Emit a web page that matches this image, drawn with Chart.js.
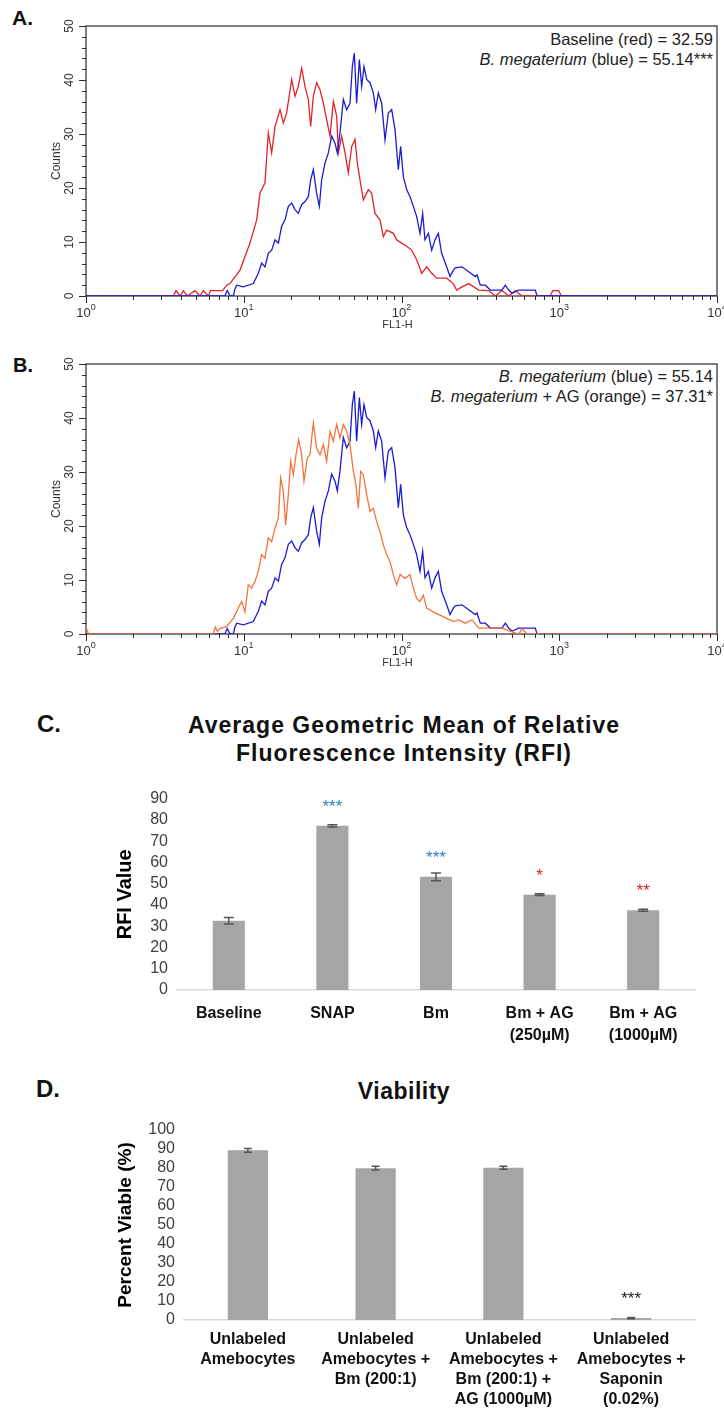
<!DOCTYPE html>
<html>
<head>
<meta charset="utf-8">
<script src="https://cdn.jsdelivr.net/npm/chart.js@4.4.1/dist/chart.umd.min.js"></script>
<style>
html,body{margin:0;padding:0;background:#fff;}
body{width:724px;height:1410px;position:relative;overflow:hidden;font-family:"Liberation Sans",Arial,sans-serif;}
.abs{position:absolute;line-height:1;white-space:nowrap;}
.letter{font-weight:bold;color:#111;}
.note{font-size:16.5px;color:#222;text-align:right;right:11px;}
.title{font-weight:bold;font-size:23px;line-height:28px;text-align:center;color:#111;letter-spacing:1px;}
.box{position:absolute;left:0;width:724px;}
</style>
</head>
<body>
<div class="abs letter" style="left:12px;top:7px;font-size:21px">A.</div>
<div class="abs note" style="top:31px">Baseline (red) = 32.59</div>
<div class="abs note" style="top:51px"><i>B. megaterium</i> (blue) = 55.14***</div>

<div class="abs letter" style="left:13px;top:355px;font-size:20px">B.</div>
<div class="abs note" style="top:368px"><i>B. megaterium</i> (blue) = 55.14</div>
<div class="abs note" style="top:388px"><i>B. megaterium</i> + AG (orange) = 37.31*</div>

<div class="abs letter" style="left:37px;top:712px;font-size:24px">C.</div>
<div class="abs title" style="left:104px;width:600px;top:711px">Average Geometric Mean of Relative<br>Fluorescence Intensity (RFI)</div>

<div class="abs letter" style="left:36px;top:1077px;font-size:24px">D.</div>
<div class="abs title" style="left:104px;width:600px;top:1077px;letter-spacing:0.5px">Viability</div>

<div class="box" style="top:0;height:335px"><canvas id="cA"></canvas></div>
<div class="box" style="top:335px;height:335px"><canvas id="cB"></canvas></div>
<div class="box" style="top:780px;height:280px"><canvas id="cC"></canvas></div>
<div class="box" style="top:1110px;height:300px"><canvas id="cD"></canvas></div>

<script>
// ---------------- DATA ----------------
// Histogram A / B : FL1-H channel value and counts
const redFL1 = [1, 3.58, 3.72, 3.94, 4.14, 4.39, 4.91, 5.28, 5.54, 5.96, 6.17, 7.07, 7.35, 7.79, 8.18, 9.47, 10.95, 12.08, 12.68, 13.63, 14.31, 15.03, 15.79, 16.98, 17.82, 18.71, 20.13, 21.13, 22.18, 23.29, 24.45, 25.67, 26.56, 27.61, 28.99, 30.44, 31.96, 33.55, 35.23, 36.98, 38.82, 39.78, 41.76, 43.84, 46.03, 48.32, 50.73, 52.48, 54.57, 57.29, 61.62, 64.7, 67.92, 73.06, 76.7, 80.54, 88.78, 93.19, 100.3, 107.8, 116, 124.8, 134.3, 144.4, 155.4, 167.1, 193.4, 213.1, 223.7, 241.9, 266.6, 308.5, 356.8, 393.3, 433.6, 478, 526.8, 580.7, 878, 908, 992, 1031, 10000];
const redCounts = [0, 0, 1, 0, 1, 0, 1, 0, 1, 0, 1, 1, 1, 2, 2.3, 4.8, 9.8, 14.1, 19.1, 20.9, 30.2, 26.5, 31.4, 34.5, 32, 33.9, 40.1, 37, 38.8, 42.2, 38.8, 36.4, 31.4, 37, 39.5, 38.2, 35.7, 32.6, 29.6, 36, 33.3, 26.5, 29.6, 26.5, 22.8, 27.7, 29, 24.6, 21.5, 17.8, 19.7, 19, 15.3, 14.1, 11, 12.2, 11.6, 10.4, 9.8, 9.2, 8.5, 6.7, 4.2, 5.4, 4.2, 3.3, 3.3, 2.3, 1.1, 1.7, 2.3, 1.1, 1, 0, 1, 0, 1, 0, 0, 1, 1, 0, 0];

const blueFL1 = [1, 7.6, 7.85, 8.2, 8.6, 8.75, 9.02, 9.94, 11.5, 12.37, 12.99, 13.63, 14.31, 15.03, 15.79, 16.57, 17.39, 18.26, 19.17, 20.13, 21.13, 22.18, 23.29, 24.45, 25.67, 26.56, 27.61, 28.99, 30.14, 31.18, 32.74, 34.38, 36.09, 37.89, 39.2, 40.75, 42.78, 44.92, 47.16, 48.79, 50.23, 51.96, 54.04, 55.91, 57.85, 60.14, 63.14, 66.3, 68.59, 71.31, 74.86, 78.61, 82.51, 86.64, 90.96, 95.48, 98.79, 102.7, 107.8, 113.2, 118.9, 124.8, 131, 136.2, 140.9, 148, 155.4, 163.1, 171.2, 179.7, 193.4, 203, 213.1, 219.4, 241.9, 266.6, 293.8, 301, 316, 340, 365.7, 433.6, 455.2, 478, 501.8, 553, 705.2, 722.7, 10000];
const blueCounts = [0, 0, 1, 0, 0, 1.1, 2, 1.7, 2.3, 4.2, 6.1, 5.4, 7.9, 8.5, 10.4, 9.8, 12.9, 14.1, 16.6, 17.2, 16, 15.3, 16.9, 17.5, 18.4, 21.5, 23.4, 19, 16.6, 21.5, 24.6, 26.5, 29.6, 28.3, 26.5, 30.2, 36.4, 34.5, 35.7, 42.5, 45, 35.7, 43.8, 38.8, 42.5, 40.1, 39.5, 37.6, 34.5, 37.6, 35.7, 28.9, 33.9, 34.5, 30.8, 23.4, 27.7, 22.1, 19.7, 18.4, 16.6, 14.7, 11.6, 15.3, 10.4, 11.6, 8.5, 10.4, 11.6, 7.9, 5.4, 3.6, 4.8, 5.2, 5.4, 4.5, 3.6, 3.9, 2, 2, 1.1, 1.1, 2, 1.1, 0.5, 1.1, 1.1, 0, 0];

const orangeFL1 = [1, 1.04, 6.4, 6.6, 6.8, 7.07, 7.79, 8.59, 9.24, 9.7, 10.18, 10.69, 11.22, 11.78, 12.37, 12.99, 13.63, 14.31, 15.03, 15.79, 16.57, 17.14, 17.82, 18.44, 19.17, 19.84, 20.62, 21.44, 22.29, 23.29, 24.09, 25.29, 26.3, 27.61, 28.99, 30.44, 31.96, 33.55, 35.23, 36.98, 38.82, 40.75, 42.78, 44.92, 47.16, 49.52, 51.47, 53.26, 55.11, 57.29, 60.14, 63.14, 66.3, 69.6, 73.06, 76.7, 80.54, 84.56, 88.78, 93.19, 97.83, 105.2, 113.2, 118.9, 124.8, 131, 137.5, 144.4, 159.2, 175.4, 193.4, 213.1, 229.3, 253.9, 279.9, 308.5, 356.8, 433.6, 501.8, 553, 580.7, 624.5, 10000];
const orangeCounts = [1.2, 0, 0, 1.3, 0.5, 1, 1.4, 2.9, 4.8, 6, 4.1, 9.1, 8.5, 9.7, 11.6, 14.7, 14, 17.8, 17.1, 19.6, 21.5, 28.9, 26.4, 20.2, 25.8, 32, 29.5, 33.2, 36, 33.2, 28.3, 32.6, 33.2, 39.1, 34.4, 33.2, 35.1, 32, 37.5, 35.7, 38.8, 36.3, 38.8, 37.5, 35.1, 30.1, 27.6, 23.3, 30.1, 29.5, 25.8, 22.7, 23.3, 20.8, 19, 16.5, 14.7, 13.4, 11, 9.1, 11, 10.3, 11, 8.5, 6.6, 6, 7.2, 4.8, 4.1, 3.5, 2.9, 2.3, 2.6, 2, 2.6, 1.1, 1.1, 1.1, 0.4, 0, 1, 0, 0];

const countTicks = [0, 10, 20, 30, 40, 50];
const decadeExponents = [0, 1, 2, 3, 4];

// Panel C
const rfiCategories = ['Baseline', 'SNAP', 'Bm', ['Bm + AG', '(250µM)'], ['Bm + AG', '(1000µM)']];
const rfiValues = [32.59, 77.2, 53.2, 44.8, 37.5];
const rfiErrors = [1.5, 0.5, 1.8, 0.4, 0.5];
const rfiStars = ['', '***', '***', '*', '**'];
const rfiStarColors = ['#000', '#2F7EC1', '#2F7EC1', '#E02020', '#E02020'];

// Panel D
const viabilityCategories = [
  ['Unlabeled', 'Amebocytes'],
  ['Unlabeled', 'Amebocytes +', 'Bm (200:1)'],
  ['Unlabeled', 'Amebocytes +', 'Bm (200:1) +', 'AG (1000µM)'],
  ['Unlabeled', 'Amebocytes +', 'Saponin', '(0.02%)']
];
const viabilityValues = [89.3, 79.9, 80.1, 1.0];
const viabilityErrors = [1.0, 1.0, 0.8, 0.3];
const viabilityStars = ['', '', '', '***'];
const viabilityStarColors = ['#000', '#000', '#000', '#222'];

// ---------------- STYLE ----------------
const FONT = '"Liberation Sans", Arial, sans-serif';
Chart.defaults.font.family = FONT;
Chart.defaults.animation = false;

function pts(xs, ys) { return xs.map((v, i) => ({ x: v, y: ys[i] })); }

const histDecor = {
  id: 'histDecor',
  beforeDatasetsDraw(chart) {
    const { ctx, chartArea: a, scales: { x, y } } = chart;
    ctx.save();
    ctx.strokeStyle = '#2b2b2b';
    ctx.lineWidth = 1.2;
    ctx.strokeRect(a.left, a.top, a.right - a.left, a.bottom - a.top);
    ctx.lineWidth = 1;
    ctx.beginPath();
    const yMax = countTicks[countTicks.length - 1];
    for (let v = 0; v <= yMax; v += 2) {
      const py = Math.round(y.getPixelForValue(v)) + 0.5;
      const len = v % 10 === 0 ? 7 : 4;
      ctx.moveTo(a.left - len, py); ctx.lineTo(a.left, py);
    }
    decadeExponents.forEach(e => {
      for (let m = 1; m <= 9; m++) {
        if (e === decadeExponents[decadeExponents.length - 1] && m > 1) break;
        const px = Math.round(x.getPixelForValue(m * Math.pow(10, e))) + 0.5;
        const len = m === 1 ? 7 : 4;
        ctx.moveTo(px, a.bottom); ctx.lineTo(px, a.bottom + len);
      }
    });
    ctx.stroke();
    ctx.fillStyle = '#333';
    ctx.font = '12px ' + FONT;
    countTicks.forEach(v => {
      const py = y.getPixelForValue(v);
      ctx.save();
      ctx.translate(a.left - 16, py);
      ctx.rotate(-Math.PI / 2);
      ctx.textAlign = 'center'; ctx.textBaseline = 'middle';
      ctx.fillText(String(v), 0, 0);
      ctx.restore();
    });
    decadeExponents.forEach(e => {
      const px = x.getPixelForValue(Math.pow(10, e));
      ctx.font = '13px ' + FONT;
      const w1 = ctx.measureText('10').width;
      ctx.font = '9px ' + FONT;
      const w2 = ctx.measureText(String(e)).width;
      const start = px - (w1 + w2) / 2;
      ctx.textAlign = 'left'; ctx.textBaseline = 'alphabetic';
      ctx.font = '13px ' + FONT;
      ctx.fillText('10', start, a.bottom + 21);
      ctx.font = '9px ' + FONT;
      ctx.fillText(String(e), start + w1, a.bottom + 14);
    });
    ctx.font = '12px ' + FONT;
    ctx.save();
    ctx.translate(a.left - 29, (a.top + a.bottom) / 2);
    ctx.rotate(-Math.PI / 2);
    ctx.textAlign = 'center'; ctx.textBaseline = 'middle';
    ctx.fillText('Counts', 0, 0);
    ctx.restore();
    ctx.font = '11px ' + FONT;
    ctx.textAlign = 'center'; ctx.textBaseline = 'middle';
    ctx.fillText('FL1-H', (a.left + a.right) / 2 - 4, a.bottom + 29);
    ctx.restore();
  }
};

function histChart(id, datasets, pad) {
  return new Chart(document.getElementById(id), {
    type: 'scatter',
    data: { datasets },
    options: {
      responsive: true, maintainAspectRatio: false, devicePixelRatio: 1,
      layout: { padding: pad },
      plugins: { legend: { display: false }, tooltip: { enabled: false } },
      scales: {
        x: { type: 'logarithmic', min: 1, max: 10000, display: false },
        y: { type: 'linear', min: 0, max: 50, display: false }
      }
    },
    plugins: [histDecor]
  });
}
function line(xs, ys, color) {
  return { data: pts(xs, ys), showLine: true, borderColor: color, borderWidth: 1.3,
           pointRadius: 0, tension: 0, fill: false };
}

const BLUE = '#1C1CCF', RED = '#E2232E', ORANGE = '#F4733A';
histChart('cA', [line(blueFL1, blueCounts, BLUE), line(redFL1, redCounts, RED)],
  { left: 86, right: 7, top: 26, bottom: 39 });
histChart('cB', [line(orangeFL1, orangeCounts, ORANGE), line(blueFL1, blueCounts, BLUE)],
  { left: 86, right: 7, top: 29, bottom: 36 });

// ---------- bar charts ----------
const barExtras = {
  id: 'barExtras',
  afterDatasetsDraw(chart, args, o) {
    const { ctx, scales: { y } } = chart;
    const meta = chart.getDatasetMeta(0);
    const vals = chart.data.datasets[0].data;
    ctx.save();
    ctx.strokeStyle = '#555';
    ctx.lineWidth = 1.5;
    meta.data.forEach((bar, i) => {
      const e = o.errors[i];
      const yt = y.getPixelForValue(vals[i] + e), yb = y.getPixelForValue(vals[i] - e);
      ctx.beginPath();
      ctx.moveTo(bar.x, yt); ctx.lineTo(bar.x, yb);
      ctx.moveTo(bar.x - o.cap, yt); ctx.lineTo(bar.x + o.cap, yt);
      ctx.moveTo(bar.x - o.cap, yb); ctx.lineTo(bar.x + o.cap, yb);
      ctx.stroke();
      if (o.stars[i]) {
        ctx.fillStyle = o.starColors[i];
        ctx.font = '17px ' + FONT;
        ctx.textAlign = 'center'; ctx.textBaseline = 'alphabetic';
        ctx.fillText(o.stars[i], bar.x, bar.y - 14);
      }
    });
    ctx.restore();
  }
};

function barChart(id, labels, values, ext, cfg) {
  return new Chart(document.getElementById(id), {
    type: 'bar',
    data: { labels, datasets: [{ data: values, backgroundColor: '#A5A5A5',
      barPercentage: cfg.barPct, categoryPercentage: 1 }] },
    options: {
      responsive: true, maintainAspectRatio: false, devicePixelRatio: 1,
      layout: { padding: cfg.pad },
      plugins: { legend: { display: false }, tooltip: { enabled: false }, barExtras: ext },
      scales: {
        x: {
          grid: { display: false, drawTicks: false },
          border: { display: true, color: '#D9D9D9', width: 1.5 },
          ticks: { color: '#111', font: { size: 16, weight: 'bold', lineHeight: cfg.lineH },
                   padding: cfg.xPad, autoSkip: false, maxRotation: 0, minRotation: 0 },
          afterFit: s => { s.height = cfg.xH; }
        },
        y: {
          min: 0, max: cfg.yMax,
          grid: { display: false, drawTicks: false },
          border: { display: false },
          ticks: { stepSize: 10, autoSkip: false, color: '#404040', font: { size: 16 }, padding: 9 },
          title: { display: true, text: cfg.yTitle, color: '#000',
                   font: { size: cfg.yTitleSize, weight: 'bold' }, padding: { top: 4, bottom: 4 } },
          afterFit: s => { s.width = cfg.yW; }
        }
      }
    },
    plugins: [barExtras]
  });
}

barChart('cC', rfiCategories, rfiValues,
  { errors: rfiErrors, stars: rfiStars, starColors: rfiStarColors, cap: 5 },
  { barPct: 0.31, pad: { left: 109, right: 29, top: 14, bottom: 0 }, xH: 70, yW: 68,
    yMax: 90, yTitle: 'RFI Value', yTitleSize: 20, lineH: 1.4, xPad: 12 });

barChart('cD', viabilityCategories, viabilityValues,
  { errors: viabilityErrors, stars: viabilityStars, starColors: viabilityStarColors, cap: 4 },
  { barPct: 0.315, pad: { left: 110, right: 29, top: 20, bottom: 0 }, xH: 90, yW: 74,
    yMax: 100, yTitle: 'Percent Viable (%)', yTitleSize: 19, lineH: 1.25, xPad: 10 });
</script>
</body>
</html>
